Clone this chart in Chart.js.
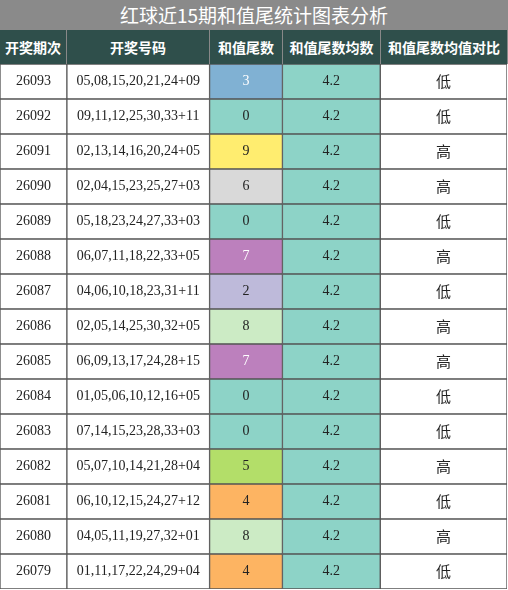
<!DOCTYPE html>
<html><head><meta charset="utf-8">
<script src="https://cdn.jsdelivr.net/npm/chart.js@4/dist/chart.umd.min.js"></script>
<style>
body{margin:0;width:508px;height:590px;overflow:hidden;font-family:"Liberation Serif","Noto Sans CJK SC",serif;background:#fff}
#title{height:30px;background:#8a8a8a;color:#fff;font-size:19px;text-align:center;line-height:30px;font-family:"Noto Sans CJK SC",sans-serif}
#head{display:flex;height:34px;background:#2f4f4b;color:#fff;font-weight:bold;font-size:14px;font-family:"Noto Sans CJK SC",sans-serif}
#head div{display:flex;align-items:center;justify-content:center;border-right:1px solid #888;box-sizing:border-box}
#wrap{position:relative;width:508px;height:526px}
</style></head><body>
<div id="title">红球近15期和值尾统计图表分析</div>
<div id="head"><div style="width:67px">开奖期次</div><div style="width:143px">开奖号码</div><div style="width:73px">和值尾数</div><div style="width:98px">和值尾数均数</div><div style="width:127px">和值尾数均值对比</div></div>
<div id="wrap"><canvas id="c"></canvas></div>
<script>
const periods=["26093","26092","26091","26090","26089","26088","26087","26086","26085","26084","26083","26082","26081","26080","26079"];
const numbers=["05,08,15,20,21,24+09","09,11,12,25,30,33+11","02,13,14,16,20,24+05","02,04,15,23,25,27+03","05,18,23,24,27,33+03","06,07,11,18,22,33+05","04,06,10,18,23,31+11","02,05,14,25,30,32+05","06,09,13,17,24,28+15","01,05,06,10,12,16+05","07,14,15,23,28,33+03","05,07,10,14,21,28+04","06,10,12,15,24,27+12","04,05,11,19,27,32+01","01,11,17,22,24,29+04"];
const tails=[3,0,9,6,0,7,2,8,7,0,0,5,4,8,4];
const avgs=[4.2,4.2,4.2,4.2,4.2,4.2,4.2,4.2,4.2,4.2,4.2,4.2,4.2,4.2,4.2];
const compare=["低","低","高","高","低","高","低","高","高","低","低","高","低","高","低"];
const tailColors={0:"#8dd3c7",1:"#fb8072",2:"#bebada",3:"#80b1d3",4:"#fdb462",5:"#b3de69",6:"#d9d9d9",7:"#bc80bd",8:"#ccebc5",9:"#ffed6f"};
const colEdges=[0,67,210,283,381,508];
const texts=[periods,numbers,tails.map(String),avgs.map(v=>v.toFixed(1)),compare];
const bgs=[periods.map(()=>"#fff"),periods.map(()=>"#fff"),tails.map(t=>tailColors[t]),avgs.map(()=>"#8dd3c7"),periods.map(()=>"#fff")];
const fgs=[null,null,tails.map(t=>(t==3||t==7)?"#fff":"#222"),null,null];
const datasets=texts.map((t,i)=>({data:periods.map(()=>[colEdges[i],colEdges[i+1]]),backgroundColor:bgs[i],borderColor:"#555",borderWidth:1,borderSkipped:false,grouped:false,barPercentage:1,categoryPercentage:1}));
const textPlugin={id:"t",afterDatasetsDraw(ch){const c=ch.ctx;c.save();c.textAlign="center";c.textBaseline="middle";
ch.data.datasets.forEach((d,i)=>{ch.getDatasetMeta(i).data.forEach((el,j)=>{const x=(el.x+el.base)/2;c.fillStyle=fgs[i]?fgs[i][j]:"#222";
c.font=(i==4?"15px 'Noto Sans CJK SC'":"14px 'Liberation Serif'");c.fillText(texts[i][j],x,el.y);});});c.restore();}};
new Chart(document.getElementById("c"),{type:"bar",data:{labels:periods,datasets},plugins:[textPlugin],
options:{indexAxis:"y",responsive:true,maintainAspectRatio:false,animation:false,layout:{padding:{right:1,bottom:1}},
plugins:{legend:{display:false},tooltip:{enabled:false}},
scales:{x:{type:"linear",min:0,max:508,display:false},y:{display:false,grid:{display:false}}}}});
</script></body></html>
